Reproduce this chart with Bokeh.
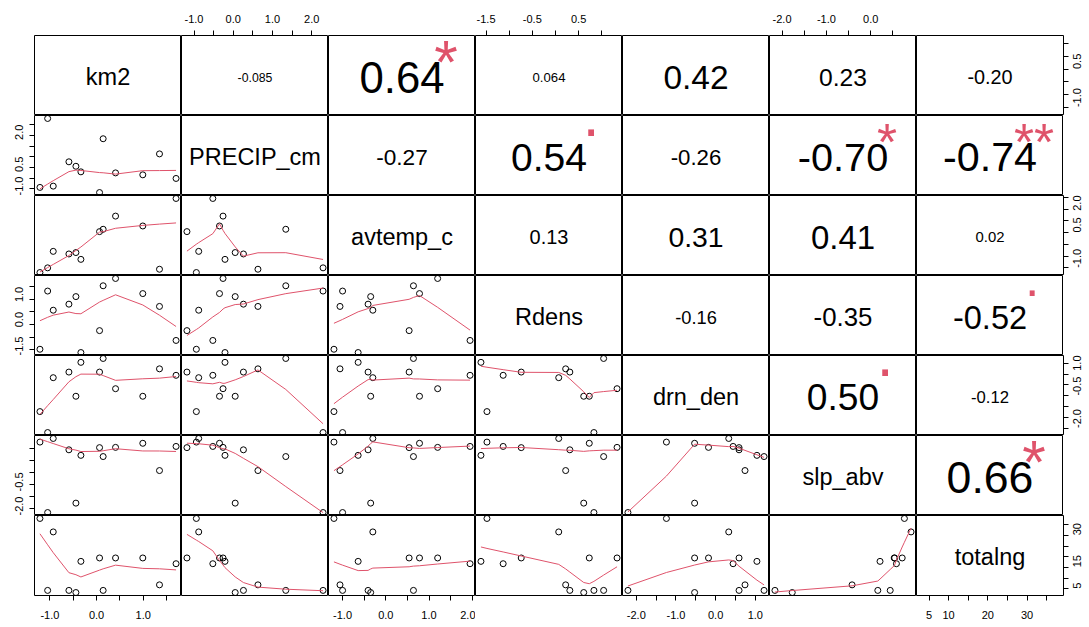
import math
import numpy as np
from bokeh.plotting import figure
from bokeh.layouts import gridplot
from bokeh.models import Range1d, LinearAxis, FixedTicker, CustomJSTickFormatter
from bokeh.core.properties import value
from bokeh.embed import file_html
from bokeh.resources import INLINE

# ---------------- data ----------------
var_names = ["km2", "PRECIP_cm", "avtemp_c", "Rdens", "drn_den", "slp_abv", "totalng"]

km2       = [-1.214, -1.049, -0.929, -0.593, -0.443, -0.336, 0.064, 0.141, 0.407, 0.991, 1.349, 1.704]
PRECIP_cm = [-0.94, 2.29, -0.88, 0.26, 0.05, -0.21, -1.18, 1.34, -0.26, -0.35, 0.63, -0.52]
avtemp_c  = [-1.20, -1.00, -0.30, -0.41, -0.35, -0.64, 0.54, 0.64, 1.20, 0.78, -1.06, 1.95]
Rdens     = [-1.48, 0.83, 0.07, 0.31, 0.61, -1.61, -0.74, 1.04, 1.33, 0.73, 0.22, -1.13]
drn_den   = [-1.24, -2.21, 0.33, 0.59, -0.53, 1.04, 0.59, 1.22, -0.18, -0.53, 0.74, 0.44]
slp_abv   = [0.76, -2.16, 0.91, 0.44, -1.77, 0.21, 0.53, 0.16, 0.54, 0.71, -0.42, 0.58]
totalng   = [37.9, 4.2, 31.6, 4.2, 3.2, 17.8, 19.4, 4.2, 19.4, 19.4, 6.8, 16.7]

# upper triangle, row by row
cor_labels = ["-0.085", "0.64", "0.064", "0.42", "0.23", "-0.20",
              "-0.27", "0.54", "-0.26", "-0.70", "-0.74",
              "0.13", "0.31", "0.41", "0.02",
              "-0.16", "-0.35", "-0.52",
              "0.50", "-0.12",
              "0.66"]
signif_labels = ["", "*", "", "", "", "",
                 "", ".", "", "*", "**",
                 "", "", "", "",
                 "", "", ".",
                 ".", "",
                 "*"]

# axis ticks per variable and which of them carry a label
axis_ticks = [
    [-1.0, -0.5, 0.0, 0.5, 1.0, 1.5],
    [-1.0, -0.5, 0.0, 0.5, 1.0, 1.5, 2.0],
    [-1.0, -0.5, 0.0, 0.5, 1.0, 1.5, 2.0],
    [-1.5, -1.0, -0.5, 0.0, 0.5, 1.0],
    [-2.0, -1.5, -1.0, -0.5, 0.0, 0.5, 1.0],
    [-2.0, -1.5, -1.0, -0.5, 0.0, 0.5],
    [5, 10, 15, 20, 25, 30, 35],
]
label_digits = [1, 1, 1, 1, 1, 1, 0]
top_labels    = {1: [-1.0, 0.0, 1.0, 2.0], 3: [-1.5, -0.5, 0.5], 5: [-2.0, -1.0, 0.0]}
bottom_labels = {0: [-1.0, 0.0, 1.0], 2: [-1.0, 0.0, 1.0, 2.0], 4: [-2.0, -1.0, 0.0, 1.0], 6: [5, 10, 20, 30]}
left_labels   = {1: [-1.0, 0.5, 2.0], 3: [-1.5, 0.0, 1.0], 5: [-2.0, -0.5]}
right_labels  = {0: [-1.0, 0.5], 2: [-1.0, 0.5, 2.0], 4: [-2.0, -0.5, 1.0], 6: [5, 15, 30]}

series = [km2, PRECIP_cm, avtemp_c, Rdens, drn_den, slp_abv, totalng]

# ---------------- helpers ----------------
FONT = "Liberation Sans"
RED = "#DF536B"
CW = {"0": 0.556, "1": 0.556, "2": 0.556, "3": 0.556, "4": 0.556, "5": 0.556,
      "6": 0.556, "7": 0.556, "8": 0.556, "9": 0.556, ".": 0.278, "-": 0.333}


def em_width(s):
    return sum(CW.get(c, 0.556) for c in s)


def r_lowess(xv, yv, f=2.0 / 3.0, nsteps=3):
    """Port of R's clowess (stats::lowess)."""
    x = np.asarray(xv, float)
    y = np.asarray(yv, float)
    o = np.argsort(x, kind="stable")
    x, y = x[o], y[o]
    n = len(x)
    delta = 0.01 * (x[-1] - x[0])
    ns = max(2, min(n, int(f * n + 1e-7)))
    X = np.concatenate([[0.0], x])
    Y = np.concatenate([[0.0], y])
    ys = np.zeros(n + 1)
    rw = np.ones(n + 1)

    def lowest(xs, nleft, nright, userw):
        rng = X[n] - X[1]
        h = max(xs - X[nleft], X[nright] - xs)
        h9, h1 = 0.999 * h, 0.001 * h
        w = np.zeros(n + 1)
        a = 0.0
        j = nleft
        while j <= n:
            r = abs(X[j] - xs)
            if r <= h9:
                w[j] = 1.0 if r <= h1 else (1.0 - (r / h) ** 3) ** 3
                if userw:
                    w[j] *= rw[j]
                a += w[j]
            elif X[j] > xs:
                break
            j += 1
        nrt = j - 1
        if a <= 0.0:
            return None
        sl = slice(nleft, nrt + 1)
        w[sl] /= a
        if h > 0.0:
            a = np.sum(w[sl] * X[sl])
            b = xs - a
            c = np.sum(w[sl] * (X[sl] - a) ** 2)
            if math.sqrt(c) > 0.001 * rng:
                b /= c
                w[sl] *= (b * (X[sl] - a) + 1.0)
        return float(np.sum(w[sl] * Y[sl]))

    it = 1
    while it <= nsteps + 1:
        nleft, nright, last, i = 1, ns, 0, 1
        while True:
            if nright < n:
                d1 = X[i] - X[nleft]
                d2 = X[nright + 1] - X[i]
                if d1 > d2:
                    nleft += 1
                    nright += 1
                    continue
            v = lowest(X[i], nleft, nright, it > 1)
            ys[i] = v if v is not None else Y[i]
            if last < i - 1:
                denom = X[i] - X[last]
                for j in range(last + 1, i):
                    al = (X[j] - X[last]) / denom
                    ys[j] = al * ys[i] + (1.0 - al) * ys[last]
            last = i
            cut = X[last] + delta
            i = last + 1
            while i <= n:
                if X[i] > cut:
                    break
                if X[i] == X[last]:
                    ys[i] = ys[last]
                    last = i
                i += 1
            i = max(last + 1, i - 1)
            if last >= n:
                break
        res = Y[1:] - ys[1:]
        sc = np.mean(np.abs(res))
        if it > nsteps:
            break
        srt = np.sort(np.abs(res))
        m1 = n // 2
        if n % 2 == 0:
            m2 = n - m1 - 1
            cmad = 3.0 * (srt[m1] + srt[m2])
        else:
            cmad = 6.0 * srt[m1]
        if cmad < 1e-7 * sc:
            break
        c9, c1 = 0.999 * cmad, 0.001 * cmad
        r = np.abs(res)
        rw[1:] = np.where(r <= c1, 1.0, np.where(r <= c9, (1.0 - (r / cmad) ** 2) ** 2, 0.0))
        it += 1
    return list(x), list(ys[1:])


def ext_range(v):
    lo, hi = min(v), max(v)
    d = hi - lo
    return lo - 0.04 * d, hi + 0.04 * d


def make_formatter(labs, digits):
    return CustomJSTickFormatter(args=dict(labs=labs, d=digits), code="""
        for (const v of labs) { if (Math.abs(v - tick) < 1e-6) { return tick.toFixed(d); } }
        return "";
    """)


def add_axis(p, var, side, labs, range_name, standoff):
    ax = LinearAxis(ticker=FixedTicker(ticks=axis_ticks[var]),
                    formatter=make_formatter(labs, label_digits[var]))
    if side in ("above", "below"):
        ax.x_range_name = range_name
    else:
        ax.y_range_name = range_name
        ax.major_label_orientation = math.pi / 2
    ax.axis_line_color = None
    ax.axis_label_standoff = 0
    ax.major_tick_in = 0
    ax.major_tick_out = 5
    ax.major_tick_line_color = "black"
    ax.minor_tick_line_color = None
    ax.major_label_standoff = standoff
    ax.major_label_text_font = FONT
    ax.major_label_text_font_size = "11px"
    ax.major_label_text_color = "black"
    p.add_layout(ax, side)


# ---------------- layout ----------------
W, H = 147, 80
LB, TB, BB, RB = 34, 35, 30, 0
NV = len(var_names)
ranges = [ext_range(s) for s in series]

k = 0
upper_index = {}
for i in range(NV):
    for j in range(i + 1, NV):
        upper_index[(i, j)] = k
        k += 1

rows = []
for i in range(NV):
    row = []
    for j in range(NV):
        lower = i > j
        if lower:
            xr = Range1d(*ranges[j])
            yr = Range1d(*ranges[i])
        else:
            xr = Range1d(0, 1)
            yr = Range1d(0, 1)
        p = figure(frame_width=W, frame_height=H, x_range=xr, y_range=yr,
                   output_backend="svg", toolbar_location=None,
                   x_axis_location=None, y_axis_location=None,
                   min_border_left=LB if j == 0 else 0,
                   min_border_right=RB,
                   min_border_top=TB if i == 0 else 0,
                   min_border_bottom=BB if i == NV - 1 else 0)
        p.xgrid.visible = False
        p.ygrid.visible = False
        p.outline_line_color = "black"
        p.outline_line_width = 1
        p.background_fill_color = "white"
        p.border_fill_color = "white"
        rname = "default"
        if not lower:
            p.extra_x_ranges = {"v": Range1d(*ranges[j])}
            p.extra_y_ranges = {"v": Range1d(*ranges[i])}
            rname = "v"

        if lower:
            xs, ys = series[j], series[i]
            p.scatter(x=xs, y=ys, marker="circle", size=6, fill_color=None,
                      line_color="black", line_width=1)
            lx, ly = r_lowess(xs, ys)
            p.line(x=lx, y=ly, line_color=RED, line_width=1)
        elif i == j:
            fs = 23.5
            p.text(x=[0.5], y=[0.5 - 1.0 / H], text=[var_names[i]],
                   text_font=value(FONT), text_font_size=value(f"{fs}px"),
                   text_align="center", text_baseline="middle", text_color="black")
        else:
            idx = upper_index[(i, j)]
            txt = cor_labels[idx]
            r = abs(float(txt))
            full_fs = 0.8 * W / em_width(txt)
            fs = full_fs * (r + 0.3) / 1.3
            p.text(x=[0.5], y=[0.5 - 1.5 / H], text=[txt],
                   text_font=value(FONT), text_font_size=value(f"{fs:.2f}px"),
                   text_align="center", text_baseline="middle", text_color="black")
            sg = signif_labels[idx]
            if sg.strip():
                if "*" in sg:
                    sx = 0.8
                    sy = 0.8 - (7.0 + 0.06 * full_fs) / H
                else:
                    sx = 0.8 - 2.0 / W
                    sy = 0.8 + (0.31 * full_fs - 2.5) / H
                p.text(x=[sx], y=[sy], text=[sg],
                       text_font=value(FONT), text_font_size=value(f"{full_fs:.2f}px"),
                       text_align="center", text_baseline="middle", text_color=RED)

        # axes
        if i == 0 and j in top_labels:
            add_axis(p, j, "above", top_labels[j], rname, 8)
        if i == NV - 1 and j in bottom_labels:
            add_axis(p, j, "below", bottom_labels[j], rname, 10)
        if j == 0 and i in left_labels:
            add_axis(p, i, "left", left_labels[i], rname, 10)
        if j == NV - 1 and i in right_labels:
            add_axis(p, i, "right", right_labels[i], rname, 9)
        row.append(p)
    rows.append(row)

grid = gridplot(rows, toolbar_location=None)

open("out.html", "w").write(file_html(grid, INLINE))
